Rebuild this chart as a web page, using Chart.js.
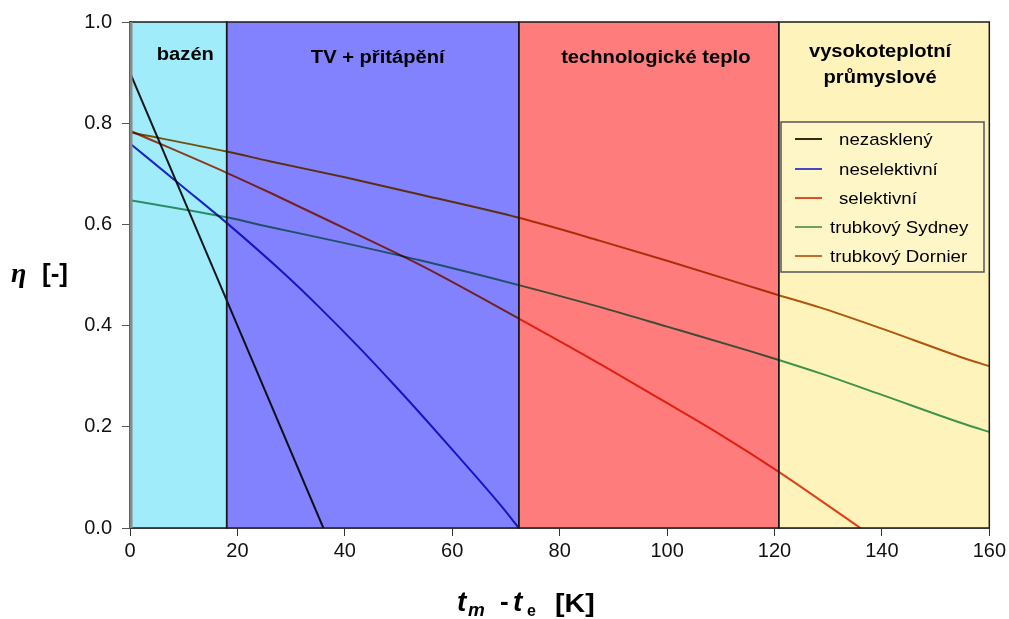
<!DOCTYPE html>
<html>
<head>
<meta charset="utf-8">
<script src="https://cdn.jsdelivr.net/npm/chart.js@4/dist/chart.umd.min.js"></script>
<style>
  html, body { margin: 0; background: #fff; }
  canvas { display: block; }
</style>
</head>
<body>
<canvas id="graf" width="1009" height="619"></canvas>
<script>
// pásma teplot (osa x) a jejich popisky
const pasmaHranice = [0, 18, 72.4, 120.8, 160];
const pasmaNazvy = [['bazén'], ['TV + přitápění'], ['technologické teplo'], ['vysokoteplotní', 'průmyslové']];
const pasmaBarvy = ['#a0ecfa', '#8282ff', '#ff7c7c', '#fff3bc'];

// křivky účinnosti
const nezasklenyX = [0, 36];
const nezasklenyY = [0.90, 0.0];

const neselektivniX = [0, 10, 18, 29, 35, 43, 49, 55, 61, 69, 72.4];
const neselektivniY = [0.76, 0.673, 0.603, 0.5, 0.439, 0.353, 0.285, 0.215, 0.143, 0.045, 0.0];

const selektivniX = [0, 18, 26, 40, 54, 72.4, 87.4, 99, 110, 120.8, 136];
const selektivniY = [0.785, 0.702, 0.663, 0.592, 0.52, 0.414, 0.325, 0.253, 0.184, 0.111, 0.0];

const sydneyX = [0, 18, 26, 40, 54, 72.4, 87.4, 100, 115.3, 120.8, 128.4, 140, 156.3, 160];
const sydneyY = [0.648, 0.614, 0.595, 0.563, 0.529, 0.48, 0.437, 0.398, 0.35, 0.332, 0.306, 0.263, 0.202, 0.19];

const dornierX = [0, 18, 26, 40, 54, 72.4, 87.4, 100, 115.3, 120.8, 128.4, 140, 156.3, 160];
const dornierY = [0.782, 0.744, 0.725, 0.693, 0.659, 0.613, 0.568, 0.528, 0.478, 0.46, 0.436, 0.394, 0.332, 0.32];

const nazvy = ['nezasklený', 'neselektivní', 'selektivní', 'trubkový Sydney', 'trubkový Dornier'];
const barvy = ['#1a1a1a', '#2828c8', '#e04020', '#3f9a6a', '#b05a10'];
const barvyLegenda = ['#3a2810', '#4848c0', '#e05028', '#6ca05c', '#c0702c'];

const xTicks = [0, 20, 40, 60, 80, 100, 120, 140, 160];
const yTicks = [0, 0.2, 0.4, 0.6, 0.8, 1.0];

const body = (xs, ys) => xs.map((x, i) => ({ x: x, y: ys[i] }));
const serie = [
    body(nezasklenyX, nezasklenyY),
    body(neselektivniX, neselektivniY),
    body(selektivniX, selektivniY),
    body(sydneyX, sydneyY),
    body(dornierX, dornierY)
];

function text(ctx, s, x, y, font, align, sx) {
    ctx.save();
    ctx.font = font;
    ctx.translate(x, y);
    ctx.scale(sx || 1, 1);
    ctx.textAlign = align || 'left';
    ctx.textBaseline = 'alphabetic';
    ctx.fillStyle = '#000';
    ctx.fillText(s, 0, 0);
    ctx.restore();
}

const pozadiPlugin = {
    id: 'pozadi',
    beforeDatasetsDraw(chart) {
        const { ctx, chartArea: a, scales: { x } } = chart;
        ctx.save();
        pasmaBarvy.forEach((b, i) => {
            const x0 = x.getPixelForValue(pasmaHranice[i]);
            const x1 = x.getPixelForValue(pasmaHranice[i + 1]);
            ctx.fillStyle = b;
            ctx.fillRect(x0, a.top, x1 - x0, a.bottom - a.top);
        });
        ctx.restore();
        // čáry se míchají s barvou pásma
        ctx.save();
        ctx.globalCompositeOperation = 'multiply';
    },
    afterDatasetsDraw(chart) {
        const { ctx, chartArea: a, scales: { x } } = chart;
        ctx.restore();

        // okraje pásem
        ctx.save();
        ctx.strokeStyle = '#1a1a1a';
        ctx.lineWidth = 1.5;
        for (let i = 0; i < pasmaBarvy.length; i++) {
            const x0 = x.getPixelForValue(pasmaHranice[i]);
            const x1 = x.getPixelForValue(pasmaHranice[i + 1]);
            ctx.strokeRect(x0, a.top, x1 - x0, a.bottom - a.top);
        }
        ctx.strokeStyle = '#8a8a8a';
        ctx.lineWidth = 3;
        ctx.beginPath();
        ctx.moveTo(a.left + 1, a.top);
        ctx.lineTo(a.left + 1, a.bottom);
        ctx.stroke();
        ctx.restore();

        // popisky pásem
        const posun = [7, 5, 7, -4];
        const radky = [[60], [63], [63], [57, 83]];
        pasmaNazvy.forEach((n, i) => {
            const cx = (x.getPixelForValue(pasmaHranice[i]) + x.getPixelForValue(pasmaHranice[i + 1])) / 2 + posun[i];
            n.forEach((r, j) => text(ctx, r, cx, radky[i][j], 'bold 18px "Liberation Sans", Arial, sans-serif', 'center', 1.12));
        });

        // legenda
        ctx.save();
        ctx.fillStyle = '#fff6c8';
        ctx.strokeStyle = '#555';
        ctx.lineWidth = 1.5;
        ctx.fillRect(781, 122, 203, 150);
        ctx.strokeRect(781, 122, 203, 150);
        const ly = [139, 169, 198, 227, 256];
        nazvy.forEach((n, i) => {
            ctx.strokeStyle = barvyLegenda[i];
            ctx.lineWidth = 2;
            ctx.beginPath();
            ctx.moveTo(795, ly[i]);
            ctx.lineTo(822, ly[i]);
            ctx.stroke();
            text(ctx, n, i < 3 ? 839 : 830, ly[i] + 6, '17px "Liberation Sans", Arial, sans-serif', 'left', 1.1);
        });
        ctx.restore();

        // název osy y
        text(ctx, 'η', 11, 282, 'bold italic 28px "Liberation Serif", serif', 'left', 1);
        text(ctx, '[-]', 42, 282, 'bold 26px "Liberation Sans", Arial, sans-serif', 'left', 1);

        // název osy x
        const f = '"Liberation Sans", Arial, sans-serif';
        text(ctx, 't', 457, 611, 'bold italic 28px ' + f, 'left', 1);
        text(ctx, 'm', 468, 616, 'bold italic 18px ' + f, 'left', 1.05);
        text(ctx, '-', 500, 610, 'bold 26px ' + f, 'left', 1);
        text(ctx, 't', 513, 611, 'bold italic 28px ' + f, 'left', 1);
        text(ctx, 'e', 527, 616, 'bold 16px ' + f, 'left', 1);
        text(ctx, '[K]', 555, 612, 'bold 26px ' + f, 'left', 1.1);
    }
};

new Chart(document.getElementById('graf').getContext('2d'), {
    type: 'line',
    data: {
        datasets: serie.map((d, i) => ({
            label: nazvy[i],
            data: d,
            borderColor: barvy[i],
            borderWidth: 2,
            pointRadius: 0,
            fill: false,
            cubicInterpolationMode: 'monotone'
        }))
    },
    options: {
        responsive: false,
        animation: false,
        layout: { padding: { top: 22, right: 19, left: 0, bottom: 0 } },
        plugins: {
            legend: { display: false },
            tooltip: { enabled: false }
        },
        scales: {
            x: {
                type: 'linear',
                min: 0,
                max: 160,
                afterBuildTicks: s => { s.ticks = xTicks.map(v => ({ value: v })); },
                afterFit: s => { s.height = 91; },
                ticks: {
                    color: '#111',
                    padding: 3,
                    maxRotation: 0,
                    font: { family: '"Liberation Sans", Arial, sans-serif', size: 20 }
                },
                grid: { drawOnChartArea: false, drawTicks: true, tickLength: 8, color: '#333' },
                border: { color: '#222', width: 1.5 }
            },
            y: {
                min: 0,
                max: 1,
                afterBuildTicks: s => { s.ticks = yTicks.map(v => ({ value: v })); },
                afterFit: s => { s.width = 130; },
                ticks: {
                    color: '#111',
                    padding: 10,
                    callback: v => v.toFixed(1),
                    font: { family: '"Liberation Sans", Arial, sans-serif', size: 20 }
                },
                grid: { drawOnChartArea: false, drawTicks: true, tickLength: 8, color: '#555' },
                border: { color: '#8a8a8a', width: 3 }
            }
        }
    },
    plugins: [pozadiPlugin]
});
</script>
</body>
</html>
